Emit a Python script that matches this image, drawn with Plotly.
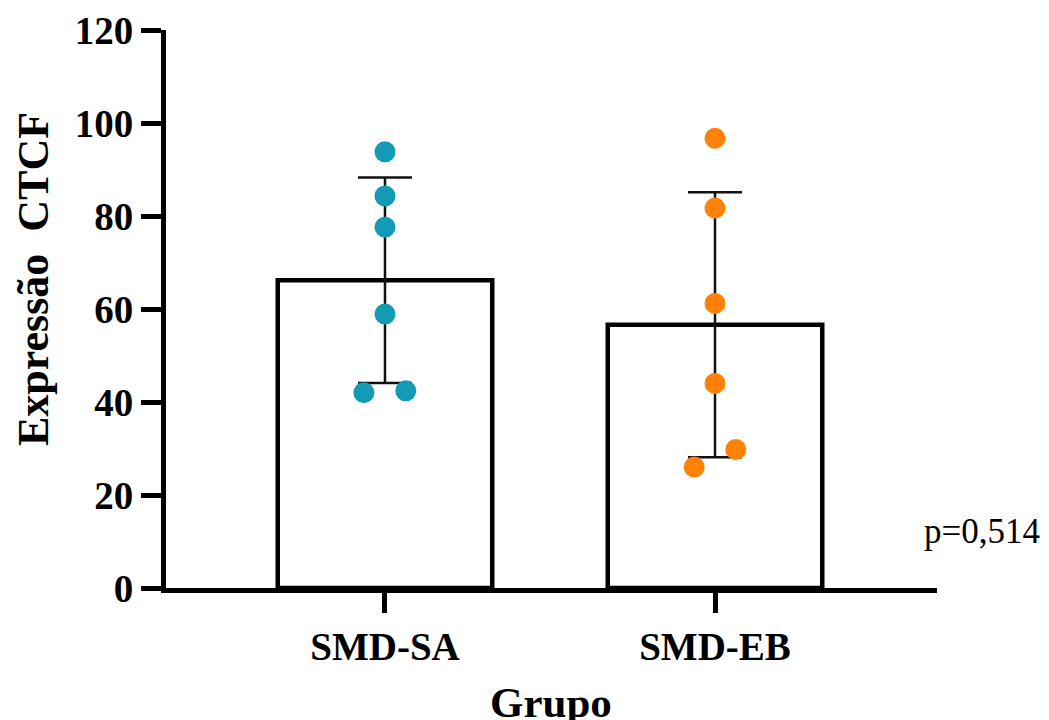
import plotly.graph_objects as go

categories = ["SMD-SA", "SMD-EB"]
means = [66.2, 56.6]
sds = [22.1, 28.5]
sa_values = [93.8, 84.3, 77.6, 58.9, 42.0, 42.4]
eb_values = [96.7, 81.7, 61.2, 44.0, 29.8, 26.0]
sa_jitter = [0, 0, 0, 0, -0.064, 0.063]
eb_jitter = [0, 0, 0, 0, 0.063, -0.063]
y_ticks = [0, 20, 40, 60, 80, 100, 120]
colors = ["#139BB6", "#FF8205"]

FONT = "Liberation Serif"
L, R, T, B = 166, 112, 30, 132
PW, PH = 1049 - L - R, 720 - T - B

def px(xp):
    return (xp - L) / PW

def py(yp):
    return (720 - B - yp) / PH

fig = go.Figure()
fig.add_trace(go.Bar(
    x=[0, 1], y=means, width=0.65,
    marker=dict(color="white", line=dict(color="black", width=4.5)),
    error_y=dict(type="data", array=sds, visible=True, color="#111111",
                 thickness=2.5, width=27),
    showlegend=False, hoverinfo="skip",
))
for i, (vals, jit) in enumerate([(sa_values, sa_jitter), (eb_values, eb_jitter)]):
    fig.add_trace(go.Scatter(
        x=[i + j for j in jit], y=vals, mode="markers",
        marker=dict(color=colors[i], size=21, line=dict(width=0)),
        showlegend=False, cliponaxis=False,
    ))

fig.update_layout(
    width=1049, height=720,
    margin=dict(l=L, r=R, t=T, b=B, autoexpand=False),
    plot_bgcolor="white", paper_bgcolor="white",
    font=dict(family=FONT, color="black"),
    xaxis=dict(
        range=[-0.6636, 1.6727], tickvals=[0, 1], ticktext=categories,
        showline=True, linecolor="black", linewidth=5,
        ticks="outside", ticklen=20, tickwidth=5, tickcolor="black",
        tickfont=dict(family=FONT, size=39, weight="bold"),
        showgrid=False, zeroline=False, automargin=False,
    ),
    yaxis=dict(
        range=[0, 120], tickvals=y_ticks,
        showline=True, linecolor="black", linewidth=5,
        ticks="outside", ticklen=20, tickwidth=5, tickcolor="black",
        tickfont=dict(family=FONT, size=39, weight="bold"),
        showgrid=False, zeroline=False, automargin=False,
    ),
    annotations=[
        dict(text="Expressão  CTCF", textangle=-90, xref="paper", yref="paper",
             x=px(33), y=py(279), xanchor="center", yanchor="middle", showarrow=False,
             font=dict(family=FONT, size=44, weight="bold")),
        dict(text="Grupo", xref="paper", yref="paper",
             x=px(551), y=py(702), xanchor="center", yanchor="middle", showarrow=False,
             font=dict(family=FONT, size=43, weight="bold")),
        dict(text="p=0,514", xref="paper", yref="paper", x=px(922), y=py(531),
             xanchor="left", yanchor="middle", showarrow=False,
             font=dict(family=FONT, size=35)),
    ],
)

fig.write_html("out.html", config={"displayModeBar": False},
               post_script="document.body.style.margin='0';document.body.style.overflow='hidden';")
